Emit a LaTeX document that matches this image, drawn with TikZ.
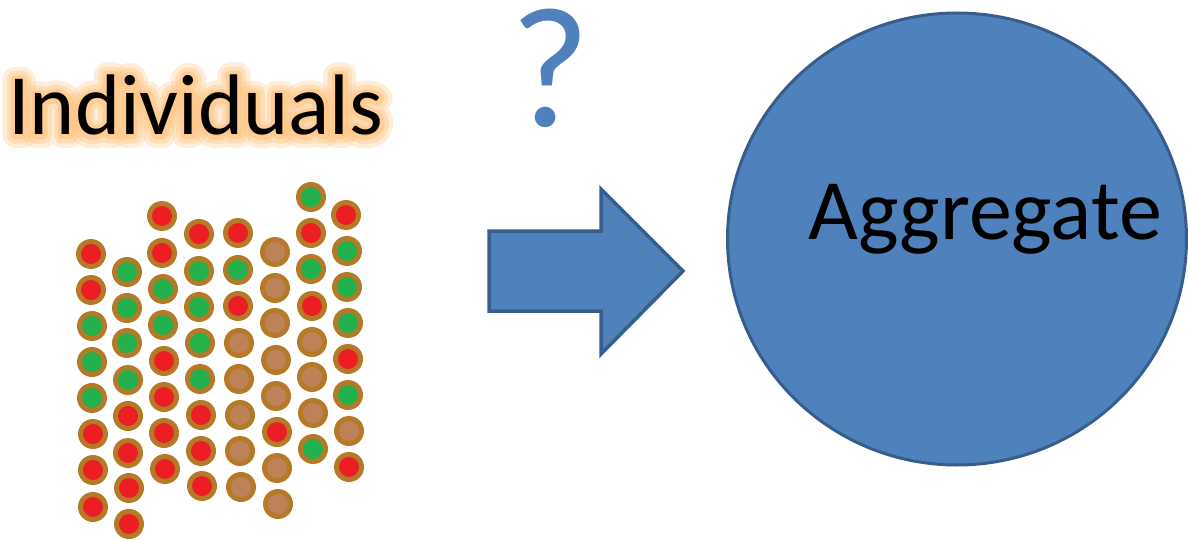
\documentclass[tikz,border=0pt]{standalone}
\usepackage{fontspec}
\setmainfont{Carlito}
\newfontfamily\glowA[FakeBold=30]{Carlito}
\newfontfamily\glowB[FakeBold=20]{Carlito}
\newfontfamily\glowC[FakeBold=10]{Carlito}
\usetikzlibrary{shapes.geometric}
\definecolor{ofblue}{RGB}{79,129,189}
\definecolor{ofborder}{RGB}{56,93,138}
\definecolor{ring}{RGB}{181,122,40}
\definecolor{dR}{RGB}{236,30,36}
\definecolor{dG}{RGB}{34,177,76}
\definecolor{dB}{RGB}{190,130,88}
\definecolor{glowc}{RGB}{255,196,130}
\tikzset{
  dot/.style={circle,fill=ring,minimum size=30pt,inner sep=0pt},
  core/.style={circle,fill=#1,minimum size=20pt,inner sep=0pt},
  big/.style={font=\fontsize{86}{92}\selectfont,inner sep=0pt},
  glowtext/.style={inner sep=0pt,anchor=base west,text=glowc,text opacity=#1},
  blockarrow/.style={fill=ofblue,draw=ofborder,line width=3.5pt,line join=miter},
}
\begin{document}
\begin{tikzpicture}[x=1pt,y=-1pt]
\useasboundingbox (0,0) rectangle (1188,540);
% glow behind Individuals
\begin{scope}[line join=round,line cap=round]
\node[glowtext=0.3,font=\glowA\fontsize{86}{92}\selectfont] (glowa) at (8,135) {Individuals};
\node[glowtext=0.4,font=\glowB\fontsize{86}{92}\selectfont] (glowb) at (8,135) {Individuals};
\node[glowtext=0.6,font=\glowC\fontsize{86}{92}\selectfont] (glowc) at (8,135) {Individuals};
\end{scope}
\node[big,anchor=base west] (individuals) at (8,135) {Individuals};
% dots
\foreach \x/\y/\c [count=\i] in {
 91/254/dR, 91/290/dR, 92/326/dG, 92/362/dG, 92/398/dG, 93/434/dR, 93/470/dR, 93/507/dR,
 127/272/dG, 127/308/dG, 127/343/dG, 128/380/dG, 128/416/dR, 128/453/dR, 129/488/dR, 129/524/dR,
 162/216/dR, 162/253/dR, 163/289/dG, 163/325/dG, 164/361/dR, 164/397/dR, 164/433/dR, 165/469/dR,
 199/234/dR, 199/271/dG, 199/307/dG, 200/343/dG, 200/379/dG, 201/415/dR, 201/451/dR, 202/486/dR,
 238/233/dR, 238/270/dG, 238/306/dR, 239/343/dB, 239/379/dB, 240/415/dB, 240/451/dB, 241/487/dB,
 275/252/dB, 275/288/dB, 275/323/dB, 276/360/dB, 276/396/dB, 277/432/dR, 277/468/dB, 278/504/dB,
 311/197/dG, 311/233/dR, 311/269/dG, 312/306/dR, 312/342/dB, 312/377/dB, 313/413/dB, 313/449/dG,
 346/215/dR, 347/251/dG, 347/287/dG, 348/323/dG, 348/359/dR, 348/395/dG, 349/431/dB, 349/467/dR}{
  \node[dot] (d\i) at (\x,\y) {};
  \node[core=\c] (c\i) at (d\i.center) {};
}
% question mark
\node[font=\fontsize{172}{180}\selectfont,text=ofblue,inner sep=0pt,anchor=base] (question) at (550,127) {?};
% block arrow
\coordinate (tip) at (683,271);
\draw[blockarrow] (489,231) -- (601,231) -- (601,189) -- (tip) -- (601,354) -- (601,311) -- (489,311) -- cycle;
% aggregate
\node[ellipse,minimum width=459pt,minimum height=452pt,inner sep=0pt,fill=ofblue,draw=ofborder,line width=3pt] (aggregate) at (957,239) {};
\node[big,anchor=base] (aggtext) at (985,240) {Aggregate};
\end{tikzpicture}
\end{document}
